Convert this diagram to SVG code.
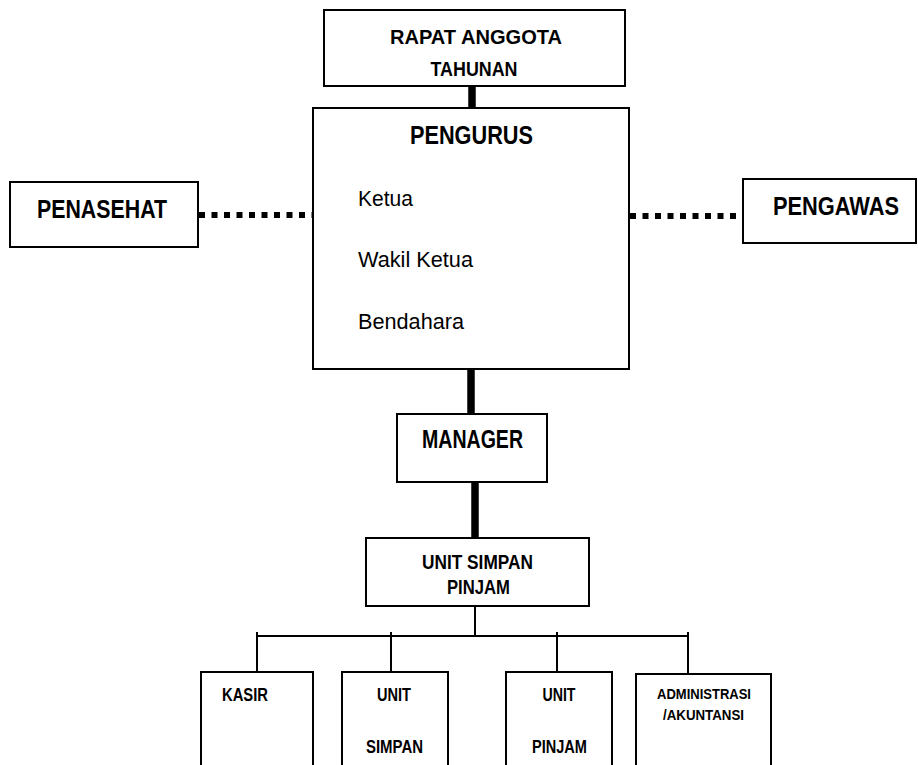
<svg xmlns="http://www.w3.org/2000/svg" width="918" height="765" viewBox="0 0 918 765">
  <style>
    .box { fill: #ffffff; stroke: #000000; stroke-width: 2; }
    .t { font-family: "Liberation Sans Narrow", "Liberation Sans", Arial, sans-serif; font-weight: bold; fill: #000000; text-anchor: middle; }
    .r { font-family: "Liberation Sans Narrow", "Liberation Sans", Arial, sans-serif; font-size: 22px; fill: #000000; }
    .thick { stroke: #000000; stroke-width: 7.5; fill: none; }
    .thin { stroke: #000000; stroke-width: 2; fill: none; }
    .dots { stroke: #000000; stroke-width: 6; stroke-dasharray: 6 6.5; fill: none; }
  </style>
  <rect width="918" height="765" fill="#ffffff"/>

  <!-- connectors -->
  <g id="connectors">
    <line class="thick" x1="472" y1="86" x2="472" y2="109"/>
    <line class="thick" x1="471" y1="367" x2="471" y2="414"/>
    <line class="thick" x1="475" y1="482" x2="475" y2="538"/>
    <line class="dots" x1="199" y1="215" x2="313" y2="215"/>
    <line class="dots" x1="630" y1="216" x2="743" y2="216"/>
    <line class="thin" x1="475" y1="606" x2="475" y2="636"/>
    <line class="thin" x1="256" y1="636" x2="689" y2="636"/>
    <line class="thin" x1="257" y1="632" x2="257" y2="672"/>
    <line class="thin" x1="391" y1="632" x2="391" y2="672"/>
    <line class="thin" x1="557" y1="632" x2="557" y2="672"/>
    <line class="thin" x1="688" y1="632" x2="688" y2="674"/>
  </g>

  <g id="rapat-anggota">
    <rect class="box" x="324" y="10" width="301" height="76"/>
    <text class="t" x="476" y="44" font-size="20" textLength="172" lengthAdjust="spacingAndGlyphs">RAPAT ANGGOTA</text>
    <text class="t" x="474" y="76" font-size="20" textLength="87" lengthAdjust="spacingAndGlyphs">TAHUNAN</text>
  </g>

  <g id="pengurus">
    <rect class="box" x="313" y="108" width="316" height="261"/>
    <text class="t" x="471.5" y="144" font-size="26" textLength="123" lengthAdjust="spacingAndGlyphs">PENGURUS</text>
    <text class="r" x="358" y="206" textLength="55" lengthAdjust="spacingAndGlyphs">Ketua</text>
    <text class="r" x="358" y="267" textLength="115" lengthAdjust="spacingAndGlyphs">Wakil Ketua</text>
    <text class="r" x="358" y="329" textLength="106" lengthAdjust="spacingAndGlyphs">Bendahara</text>
  </g>

  <g id="penasehat">
    <rect class="box" x="10" y="182" width="188" height="65"/>
    <text class="t" x="102" y="218" font-size="26" textLength="130" lengthAdjust="spacingAndGlyphs">PENASEHAT</text>
  </g>

  <g id="pengawas">
    <rect class="box" x="743" y="179" width="173" height="64"/>
    <text class="t" x="836" y="215" font-size="26" textLength="126" lengthAdjust="spacingAndGlyphs">PENGAWAS</text>
  </g>

  <g id="manager">
    <rect class="box" x="397" y="414" width="150" height="68"/>
    <text class="t" x="472.5" y="448" font-size="25" textLength="101" lengthAdjust="spacingAndGlyphs">MANAGER</text>
  </g>

  <g id="unit-simpan-pinjam">
    <rect class="box" x="366" y="538" width="223" height="68"/>
    <text class="t" x="477.5" y="569" font-size="19.5" textLength="111" lengthAdjust="spacingAndGlyphs">UNIT SIMPAN</text>
    <text class="t" x="478.5" y="594" font-size="19.5" textLength="63" lengthAdjust="spacingAndGlyphs">PINJAM</text>
  </g>

  <g id="kasir">
    <rect class="box" x="201" y="672" width="112" height="120"/>
    <text class="t" x="245" y="701" font-size="18" textLength="46" lengthAdjust="spacingAndGlyphs">KASIR</text>
  </g>

  <g id="unit-simpan">
    <rect class="box" x="342" y="672" width="106" height="120"/>
    <text class="t" x="394" y="701" font-size="18" textLength="34" lengthAdjust="spacingAndGlyphs">UNIT</text>
    <text class="t" x="394.5" y="753" font-size="18" textLength="57" lengthAdjust="spacingAndGlyphs">SIMPAN</text>
  </g>

  <g id="unit-pinjam">
    <rect class="box" x="506" y="672" width="106" height="120"/>
    <text class="t" x="559" y="701" font-size="18" textLength="33" lengthAdjust="spacingAndGlyphs">UNIT</text>
    <text class="t" x="559.5" y="753" font-size="18" textLength="55" lengthAdjust="spacingAndGlyphs">PINJAM</text>
  </g>

  <g id="administrasi">
    <rect class="box" x="636" y="674" width="135" height="120"/>
    <text class="t" x="704" y="699" font-size="15" textLength="94" lengthAdjust="spacingAndGlyphs">ADMINISTRASI</text>
    <text class="t" x="703.5" y="720" font-size="15" textLength="81" lengthAdjust="spacingAndGlyphs">/AKUNTANSI</text>
  </g>
</svg>
